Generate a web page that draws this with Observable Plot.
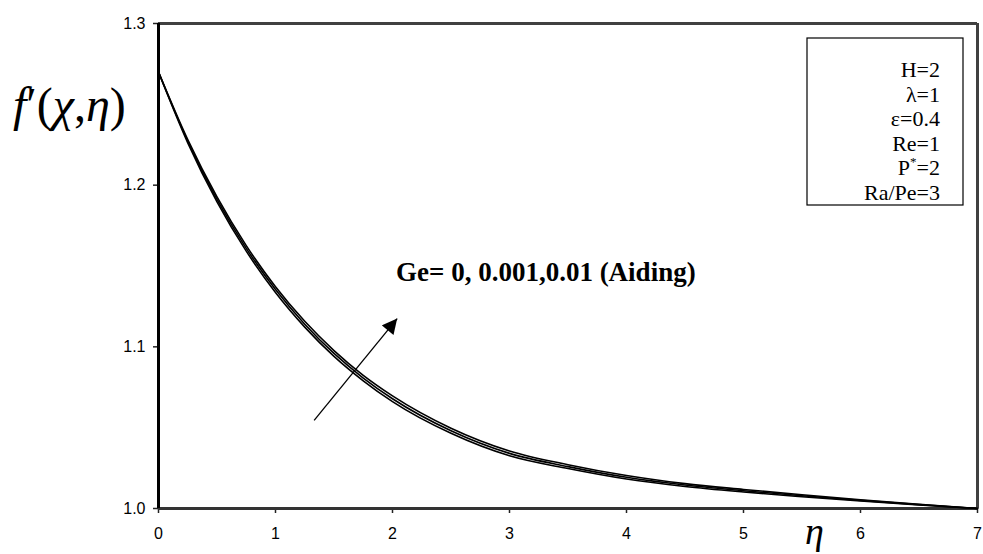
<!DOCTYPE html>
<html>
<head>
<meta charset="utf-8">
<script src="https://cdn.jsdelivr.net/npm/d3@7"></script>
<script src="https://cdn.jsdelivr.net/npm/@observablehq/plot@0.6"></script>
<style>
  html, body { margin: 0; padding: 0; background: #fff; }
  #chart { position: relative; width: 983px; height: 554px; }
</style>
</head>
<body>
<div id="chart"></div>
<script>
// η values (x)
const eta = [0, 0.25, 0.5, 0.75, 1, 1.25, 1.5, 1.75, 2, 2.5, 3, 3.5, 4, 4.5, 5, 5.5, 6, 6.5, 7];
// f'(χ,η) for Ge = 0, 0.001, 0.01 (aiding)
const ge0    = [1.2700, 1.2262, 1.1897, 1.1592, 1.1336, 1.1122, 1.0941, 1.0790, 1.0661, 1.0465, 1.0326, 1.0247, 1.0182, 1.0136, 1.0102, 1.0073, 1.0046, 1.0022, 1.0000];
const ge001  = [1.2700, 1.2272, 1.1912, 1.1609, 1.1354, 1.1140, 1.0959, 1.0807, 1.0679, 1.0481, 1.0341, 1.0259, 1.0193, 1.0145, 1.0110, 1.0079, 1.0050, 1.0024, 1.0000];
const ge01   = [1.2700, 1.2282, 1.1927, 1.1626, 1.1372, 1.1158, 1.0977, 1.0824, 1.0697, 1.0497, 1.0356, 1.0271, 1.0204, 1.0154, 1.0118, 1.0085, 1.0054, 1.0026, 1.0000];
const seriesNames = ["Ge=0", "Ge=0.001", "Ge=0.01"];
const xTicks = [0, 1, 2, 3, 4, 5, 6, 7];
const yTicks = [1.0, 1.1, 1.2, 1.3];
const legendLines = ["H=2", "λ=1", "ε=0.4", "Re=1", "P*=2", "Ra/Pe=3"];
const annotationText = "Ge= 0, 0.001,0.01 (Aiding)";
// arrow annotation in data units
const arrowData = [{x1: 1.33, y1: 1.0545, x2: 2.04, y2: 1.1175}];
const annotationPos = [{x: 2.03, y: 1.1460}];

const rows = [];
[ge0, ge001, ge01].forEach((arr, i) => {
  arr.forEach((v, j) => rows.push({series: seriesNames[i], eta: eta[j], f: v}));
});

const W = 983, H = 554;
const plot = Plot.plot({
  width: W,
  height: H,
  marginLeft: 158,
  marginRight: 6,
  marginTop: 23,
  marginBottom: 46,
  style: {fontFamily: "Liberation Sans, Arial, sans-serif", fontSize: "16px", color: "#000", background: "#fff"},
  x: {domain: [0, 7]},
  y: {domain: [1.0, 1.3]},
  marks: [
    Plot.axisX({ticks: xTicks, tickSize: 5, tickPadding: 14, tickFormat: d3.format("d"), label: null, fontSize: 16, stroke: "#222", strokeWidth: 1.5}),
    Plot.axisY({ticks: yTicks, tickSize: 5, tickPadding: 8, tickFormat: d3.format(".1f"), label: null, fontSize: 16, stroke: "#222", strokeWidth: 1.5}),
    Plot.ruleY([1.3], {stroke: "#404040", strokeWidth: 3}),
    Plot.ruleX([7], {stroke: "#404040", strokeWidth: 3}),
    Plot.ruleY([1.0], {stroke: "#333", strokeWidth: 3}),
    Plot.line(rows, {x: "eta", y: "f", z: "series", stroke: "#000", strokeWidth: 1.6, curve: "monotone-x"}),
    Plot.ruleX([0], {stroke: "#000", strokeWidth: 3}),
    Plot.link(arrowData, {x1: "x1", y1: "y1", x2: "x2", y2: "y2", stroke: "#000", strokeWidth: 1.3}),
    Plot.text(annotationPos, {x: "x", y: "y", text: () => annotationText, textAnchor: "start", fontFamily: "Liberation Serif, Times New Roman, serif", fontWeight: "bold", fontSize: 27, fill: "#000"})
  ]
});
document.getElementById("chart").appendChild(plot);

const svg = d3.select(plot);

// tick label font size: every Plot text except the annotation
svg.selectAll("text").filter(function() {
  return this.textContent !== annotationText;
}).attr("font-size", 16).style("font-size", "16px").style("font-family", "Liberation Sans, Arial, sans-serif");

// filled arrow head on the annotation arrow
const defs = svg.append("defs");
defs.append("marker").attr("id", "ahead").attr("viewBox", "0 0 10 10")
  .attr("refX", 10).attr("refY", 5).attr("markerUnits", "userSpaceOnUse")
  .attr("markerWidth", 17).attr("markerHeight", 15).attr("orient", "auto")
  .append("path").attr("d", "M0,0 L10,5 L0,10 Z").attr("fill", "#000");
svg.selectAll("g[aria-label='link'] path").attr("marker-end", "url(#ahead)");

// legend box (parameter list)
const boxX = 807, boxY = 38, boxW = 156, boxH = 167;
svg.append("rect").attr("x", boxX).attr("y", boxY).attr("width", boxW).attr("height", boxH)
  .attr("fill", "#fff").attr("stroke", "#000").attr("stroke-width", 1.2);
const lg = svg.append("g").attr("font-family", "Liberation Serif, Times New Roman, serif").attr("font-size", 22).attr("text-anchor", "end").attr("fill", "#000");
legendLines.forEach((s, i) => {
  const t = lg.append("text").attr("x", 940).attr("y", 77 + i * 24.5);
  if (s.startsWith("P*")) {
    t.append("tspan").text("P");
    t.append("tspan").attr("font-size", 13).attr("dy", -9).text("*");
    t.append("tspan").attr("dy", 9).text("=2");
  } else {
    t.text(s);
  }
});

// y title f'(χ,η)
const yt = svg.append("text").attr("x", 13).attr("y", 121).attr("text-anchor", "start")
  .attr("font-family", "Liberation Serif, Times New Roman, serif").attr("font-size", 48).attr("fill", "#000");
yt.append("tspan").attr("font-style", "italic").text("f");
yt.append("tspan").text("′(");
yt.append("tspan").attr("font-style", "italic").text("χ");
yt.append("tspan").text(",");
yt.append("tspan").attr("font-style", "italic").text("η");
yt.append("tspan").text(")");

// x title η
svg.append("text").attr("x", 805).attr("y", 544).attr("text-anchor", "start")
  .attr("font-family", "Liberation Serif, Times New Roman, serif").attr("font-size", 38)
  .attr("font-style", "italic").attr("fill", "#000").text("η");
</script>
</body>
</html>
